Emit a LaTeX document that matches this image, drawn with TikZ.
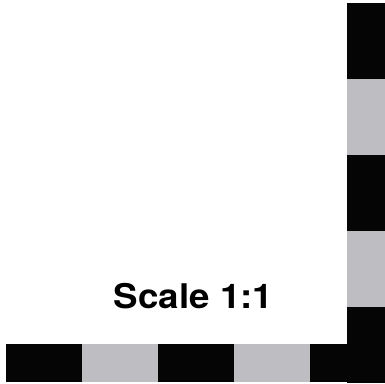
\documentclass[tikz,border=0pt]{standalone}
\usepackage{fontspec}
\setmainfont{TeX Gyre Heros}
\definecolor{scaleblack}{RGB}{5,5,5}
\definecolor{scalegray}{RGB}{190,190,194}
\begin{document}
\begin{tikzpicture}[x=1pt, y=1pt, line join=miter]
	\useasboundingbox (0,0) rectangle (385,383);
	\tikzset{cellb/.style={fill=scaleblack}, cellg/.style={fill=scalegray}}
	% bottom bar
	\foreach \i/\c in {0/cellb,1/cellg,2/cellb,3/cellg,4/cellb}
		\path[\c] (6+76*\i,1) rectangle ++(76,38);
	% right bar
	\foreach \i/\c in {0/cellb,1/cellg,2/cellb,3/cellg,4/cellb}
		\path[\c] (347,380-76*\i) rectangle ++(38,-76);
	\node[anchor=base, font=\bfseries\fontsize{34}{34}\selectfont, inner sep=0pt, xscale=1.08] (label) at (193.5,75) {Scale 1:1};
\end{tikzpicture}
\end{document}
